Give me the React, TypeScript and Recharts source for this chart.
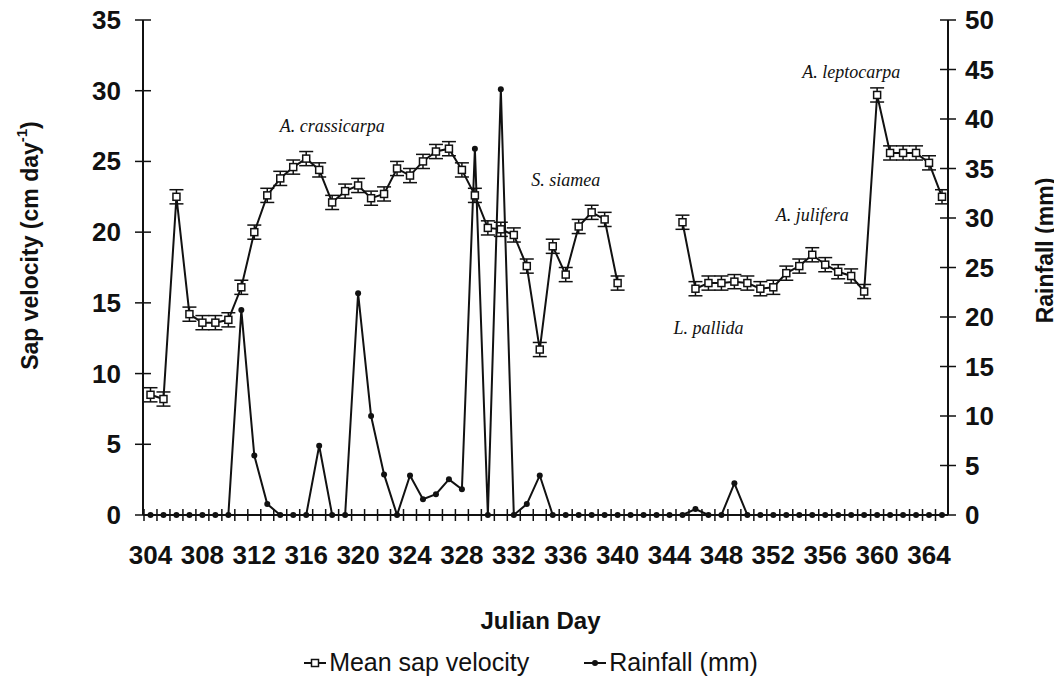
import React from 'react';
import { ComposedChart, Line, XAxis, YAxis, ErrorBar, ReferenceDot } from 'recharts';

const days = [
  304, 305, 306, 307, 308, 309, 310, 311, 312, 313, 314, 315, 316, 317, 318, 319,
  320, 321, 322, 323, 324, 325, 326, 327, 328, 329, 330, 331, 332, 333, 334, 335,
  336, 337, 338, 339, 340, 341, 342, 343, 344, 345, 346, 347, 348, 349, 350, 351,
  352, 353, 354, 355, 356, 357, 358, 359, 360, 361, 362, 363, 364, 365,
];

// mean sap velocity, cm/day (null = no measurement)
const sapVelocity = [
  8.5, 8.2, 22.5, 14.2, 13.6, 13.6, 13.8, 16.1, 20.0, 22.6, 23.8, 24.6, 25.2, 24.4, 22.1, 22.9,
  23.3, 22.4, 22.7, 24.5, 24.0, 25.0, 25.7, 25.9, 24.4, 22.6, 20.3, 20.2, 19.8, 17.6, 11.7, 19.0,
  17.0, 20.4, 21.4, 20.9, 16.4, null, null, null, null, 20.7, 16.0, 16.4, 16.4, 16.5, 16.4, 16.0,
  16.1, 17.1, 17.6, 18.4, 17.7, 17.2, 16.9, 15.8, 29.7, 25.6, 25.6, 25.6, 24.9, 22.5,
];

const sapError = [
  0.5, 0.5, 0.5, 0.5, 0.5, 0.5, 0.5, 0.5, 0.5, 0.5, 0.5, 0.5, 0.5, 0.5, 0.5, 0.5,
  0.5, 0.5, 0.5, 0.5, 0.5, 0.5, 0.5, 0.5, 0.5, 0.5, 0.5, 0.5, 0.5, 0.5, 0.5, 0.5,
  0.5, 0.5, 0.5, 0.5, 0.5, null, null, null, null, 0.5, 0.5, 0.5, 0.5, 0.5, 0.5, 0.5,
  0.5, 0.5, 0.5, 0.5, 0.5, 0.5, 0.5, 0.5, 0.5, 0.5, 0.5, 0.5, 0.5, 0.5,
];

// rainfall, mm
const rainfall = [
  0, 0, 0, 0, 0, 0, 0, 20.7, 6.0, 1.1, 0, 0, 0, 7.0, 0, 0,
  22.4, 10.0, 4.1, 0, 4.0, 1.6, 2.1, 3.6, 2.6, 37.0, 0, 43.0, 0, 1.1, 4.0, 0,
  0, 0, 0, 0, 0, 0, 0, 0, 0, 0, 0.6, 0, 0, 3.2, 0, 0,
  0, 0, 0, 0, 0, 0, 0, 0, 0, 0, 0, 0, 0, 0,
];

const xTickLabels = [304, 308, 312, 316, 320, 324, 328, 332, 336, 340, 344, 348, 352, 356, 360, 364];
const leftTicks = [0, 5, 10, 15, 20, 25, 30, 35];
const rightTicks = [0, 5, 10, 15, 20, 25, 30, 35, 40, 45, 50];

const speciesNames = ['A. crassicarpa', 'S. siamea', 'A. leptocarpa', 'A. julifera', 'L. pallida'];
const speciesDay = [318, 336, 358, 355, 347];
const speciesLevel = [27.5, 23.7, 31.3, 21.2, 13.2];

const data = days.map((d, i) => ({
  day: d,
  sap: sapVelocity[i],
  sapErr: sapError[i],
  rain: rainfall[i],
}));

const SANS = '"Liberation Sans", Arial, sans-serif';
const SERIF = '"Liberation Serif", "Times New Roman", serif';
const INK = '#111';

// day ticks sit between the points, labels under the points
const XTick = ({ x, y, payload }: any) => {
  const axisY = y - 8;
  const show = xTickLabels.includes(payload.value);
  return (
    <g>
      <line x1={x - 6.5} x2={x - 6.5} y1={axisY - 6} y2={axisY + 6} stroke={INK} strokeWidth={1.5} />
      {show && (
        <text x={x} y={axisY + 40} textAnchor="middle" dominantBaseline="central"
          fontFamily={SANS} fontWeight="bold" fontSize={26} fill={INK}>
          {payload.value}
        </text>
      )}
    </g>
  );
};

const LeftTick = ({ x, y, payload }: any) => {
  const axisX = x + 22;
  return (
    <g>
      <line x1={axisX - 8} x2={axisX + 8} y1={y} y2={y} stroke={INK} strokeWidth={1.5} />
      <text x={x} y={y} textAnchor="end" dominantBaseline="central"
        fontFamily={SANS} fontWeight="bold" fontSize={26} fill={INK}>
        {payload.value}
      </text>
    </g>
  );
};

const RightTick = ({ x, y, payload }: any) => {
  const axisX = x - 17;
  return (
    <g>
      <line x1={axisX - 8} x2={axisX + 8} y1={y} y2={y} stroke={INK} strokeWidth={1.5} />
      <text x={x} y={y} textAnchor="start" dominantBaseline="central"
        fontFamily={SANS} fontWeight="bold" fontSize={26} fill={INK}>
        {payload.value}
      </text>
    </g>
  );
};

const LeftTitle = ({ viewBox }: any) => {
  const cx = viewBox.x + 30;
  const cy = viewBox.y + viewBox.height / 2 - 22;
  return (
    <text x={cx} y={cy} transform={`rotate(-90, ${cx}, ${cy})`} textAnchor="middle"
      dominantBaseline="central" fontFamily={SANS} fontWeight="bold" fontSize={23} fill={INK}>
      Sap velocity (cm day<tspan fontSize={15} dy={-9}>-1</tspan><tspan dy={9}>)</tspan>
    </text>
  );
};

const RightTitle = ({ viewBox }: any) => {
  const cx = viewBox.x + 97;
  const cy = viewBox.y + viewBox.height / 2 - 17;
  return (
    <text x={cx} y={cy} transform={`rotate(-90, ${cx}, ${cy})`} textAnchor="middle"
      dominantBaseline="central" fontFamily={SANS} fontWeight="bold" fontSize={23} fill={INK}>
      Rainfall (mm)
    </text>
  );
};

const BottomTitle = ({ viewBox }: any) => (
  <text x={viewBox.x + viewBox.width / 2 - 5} y={viewBox.y + 105} textAnchor="middle"
    dominantBaseline="central" fontFamily={SANS} fontWeight="bold" fontSize={24} fill={INK}>
    Julian Day
  </text>
);

const SapDot = (props: any) => {
  const { cx, cy, index, value } = props;
  if (value == null || cx == null || cy == null) return <g key={`s${index}`} />;
  return (
    <rect key={`s${index}`} x={cx - 3.5} y={cy - 3.5} width={7} height={7}
      fill="#fff" stroke={INK} strokeWidth={1.5} />
  );
};

const RainDot = (props: any) => {
  const { cx, cy, index } = props;
  if (cx == null || cy == null) return <g key={`r${index}`} />;
  return <circle key={`r${index}`} cx={cx} cy={cy} r={3} fill={INK} />;
};

const SpeciesLabel = (text: string) => (props: any) => (
  <text x={props.cx} y={props.cy} textAnchor="middle" dominantBaseline="central"
    fontFamily={SERIF} fontStyle="italic" fontSize={18} fill={INK}>
    {text}
  </text>
);

export default function App() {
  return (
    <div style={{ margin: -8, width: 1062, height: 684, position: 'relative', overflow: 'hidden', background: '#fff' }}>
      <ComposedChart width={1062} height={684} data={data} style={{ overflow: 'visible' }}
        margin={{ top: 20, right: 0, bottom: 0, left: 0 }}>
        <XAxis dataKey="day" type="category" interval={0} height={169} padding={{ left: 7.5, right: 6 }}
          tick={XTick} tickLine={false} tickSize={6} tickMargin={2}
          axisLine={{ stroke: INK, strokeWidth: 2 }} label={BottomTitle} />
        <YAxis yAxisId="left" orientation="left" width={143} domain={[0, 35]} ticks={leftTicks}
          tick={LeftTick} tickLine={false} tickSize={6} tickMargin={16}
          axisLine={{ stroke: INK, strokeWidth: 2 }} label={LeftTitle} />
        <YAxis yAxisId="right" orientation="right" width={114} domain={[0, 50]} ticks={rightTicks}
          tick={RightTick} tickLine={false} tickSize={6} tickMargin={11}
          axisLine={{ stroke: INK, strokeWidth: 2 }} label={RightTitle} />
        <Line yAxisId="right" dataKey="rain" type="linear" stroke={INK} strokeWidth={2}
          dot={RainDot} activeDot={false} isAnimationActive={false} />
        <Line yAxisId="left" dataKey="sap" type="linear" stroke={INK} strokeWidth={2}
          connectNulls={false} dot={SapDot} activeDot={false} isAnimationActive={false}>
          <ErrorBar dataKey="sapErr" width={7} stroke={INK} strokeWidth={1.5} isAnimationActive={false} />
        </Line>
        {speciesNames.map((name, i) => (
          <ReferenceDot key={name} yAxisId="left" x={speciesDay[i]} y={speciesLevel[i]} r={0}
            ifOverflow="visible" shape={SpeciesLabel(name)} />
        ))}
      </ComposedChart>
      <div style={{ position: 'absolute', left: 0, top: 648, width: 1062, display: 'flex', justifyContent: 'center',
        alignItems: 'center', fontFamily: SANS, fontSize: 25, color: INK }}>
        <svg width={22} height={14}><line x1={0} x2={22} y1={7} y2={7} stroke={INK} strokeWidth={2} />
          <rect x={7.5} y={3.5} width={7} height={7} fill="#fff" stroke={INK} strokeWidth={1.5} /></svg>
        <span style={{ marginLeft: 3, marginRight: 55 }}>Mean sap velocity</span>
        <svg width={22} height={14}><line x1={0} x2={22} y1={7} y2={7} stroke={INK} strokeWidth={2} />
          <circle cx={11} cy={7} r={3} fill={INK} /></svg>
        <span style={{ marginLeft: 3 }}>Rainfall (mm)</span>
      </div>
    </div>
  );
}
